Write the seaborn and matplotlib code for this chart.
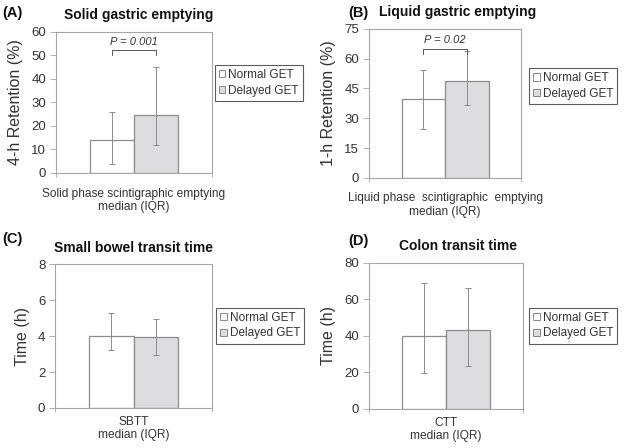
import pandas as pd
import matplotlib
matplotlib.use('Agg')
import matplotlib.pyplot as plt
import seaborn as sns
from matplotlib.patches import Patch

# Data (median and IQR)
groups = ['Normal GET', 'Delayed GET']
panel_labels = ['(A)', '(B)', '(C)', '(D)']
titles = ['Solid gastric emptying', 'Liquid gastric emptying',
          'Small bowel transit time', 'Colon transit time']
categories = ['Solid phase scintigraphic emptying\nmedian (IQR)',
              'Liquid phase  scintigraphic  emptying\nmedian (IQR)',
              'SBTT\nmedian (IQR)',
              'CTT\nmedian (IQR)']
ylabels = ['4-h Retention (%)', '1-h Retention (%)', 'Time (h)', 'Time (h)']

solid_median = [14.0, 24.5]
solid_q1 = [4.0, 11.7]
solid_q3 = [26.0, 45.0]

liquid_median = [39.5, 48.5]
liquid_q1 = [24.5, 36.5]
liquid_q3 = [54.0, 64.0]

sbtt_median = [4.0, 3.95]
sbtt_q1 = [3.2, 2.95]
sbtt_q3 = [5.3, 4.95]

ctt_median = [40.0, 43.5]
ctt_q1 = [19.5, 23.5]
ctt_q3 = [69.0, 66.5]

ymax = [60, 75, 8, 80]
ystep = [10, 15, 2, 20]
p_texts = ['P = 0.001', 'P = 0.02', None, None]
p_levels = [52.2, 65.0, None, None]

medians = [solid_median, liquid_median, sbtt_median, ctt_median]
q1s = [solid_q1, liquid_q1, sbtt_q1, ctt_q1]
q3s = [solid_q3, liquid_q3, sbtt_q3, ctt_q3]

sns.set_theme(style='white')
plt.rcParams['font.family'] = ['Liberation Sans', 'DejaVu Sans']

fig = plt.figure(figsize=(6.26, 4.48), dpi=100)

# axes rectangles in figure fractions
rects = [
    [0.0895, 0.614, 0.249, 0.315],
    [0.589, 0.603, 0.244, 0.333],
    [0.0879, 0.0893, 0.251, 0.321],
    [0.589, 0.0871, 0.246, 0.326],
]
legend_pos = [(0.343, 0.855), (0.845, 0.848), (0.345, 0.313), (0.845, 0.313)]
label_pos = [(0.004, 0.972), (0.557, 0.972), (0.004, 0.467), (0.557, 0.462)]
title_x = [0.53, 0.58, 0.5, 0.58]
xlabel_pad = [10.5, 10.5, 5.5, 5.5]

frame_col = '#a6a6a6'
bar_edge = '#8c8c8c'
err_col = '#8c8c8c'
text_col = '#333333'
colors = ['white', '#dcdcdf']

for i in range(4):
    ax = fig.add_axes(rects[i])
    df = pd.DataFrame({'cat': [categories[i]] * 2, 'group': groups, 'value': medians[i]})
    sns.barplot(data=df, x='cat', y='value', hue='group', hue_order=groups,
                palette=colors, width=0.57, errorbar=None, edgecolor=bar_edge,
                linewidth=0.9, legend=False, ax=ax)
    ax.set_xlim(-0.5, 0.5)
    ax.set_ylim(0, ymax[i])
    ax.set_yticks(range(0, ymax[i] + 1, ystep[i]))

    # IQR error bars at the bar centres
    centers = [p.get_x() + p.get_width() / 2 for p in ax.patches[:2]]
    for c, m, lo, hi in zip(centers, medians[i], q1s[i], q3s[i]):
        ax.errorbar(c, m, yerr=[[m - lo], [hi - m]], fmt='none', ecolor=err_col,
                    elinewidth=0.7, capsize=2.5, capthick=0.7)

    if p_texts[i] is not None:
        yl = p_levels[i]
        drop = ymax[i] * 0.035
        ax.plot([centers[0], centers[0], centers[1], centers[1]],
                [yl - drop, yl, yl, yl - drop], color='#555555', lw=0.7)
        ax.text((centers[0] + centers[1]) / 2, yl + ymax[i] * 0.025, p_texts[i],
                ha='center', va='bottom', style='italic', fontsize=8, color=text_col)

    for s in ax.spines.values():
        s.set_color(frame_col)
        s.set_linewidth(0.8)
    ax.set_xlabel('')
    ax.set_ylabel(ylabels[i], fontsize=11.5, color=text_col, labelpad=6)
    ax.tick_params(axis='y', left=True, length=4, width=0.6, color=frame_col,
                   labelsize=9.5, labelcolor=text_col, pad=3)
    ax.tick_params(axis='x', bottom=True, length=0, labelsize=8.6, labelcolor=text_col,
                   pad=xlabel_pad[i])
    for t in ax.get_xticklabels():
        t.set_linespacing(1.2)
    ax.set_xticks([-0.5, 0.5], minor=True)
    ax.tick_params(axis='x', which='minor', bottom=True, length=3, width=0.6, color=frame_col)

    ax.set_title(titles[i], fontsize=10, fontweight='bold', color='#111111', pad=9, x=title_x[i])
    fig.text(label_pos[i][0], label_pos[i][1], panel_labels[i], fontsize=10.5,
             fontweight='bold', color='#111111', ha='left', va='center')

    handles = [Patch(facecolor=colors[k], edgecolor='#777777', linewidth=0.6) for k in range(2)]
    fig.legend(handles, groups, loc='upper left', bbox_to_anchor=legend_pos[i],
               fontsize=8.5, frameon=True, fancybox=False, edgecolor='#333333',
               handlelength=0.55, handleheight=0.55, handletextpad=0.25,
               borderpad=0.35, labelspacing=0.3, borderaxespad=0,
               labelcolor=text_col).get_frame().set_linewidth(0.8)

fig.savefig('out.png', dpi=100)
